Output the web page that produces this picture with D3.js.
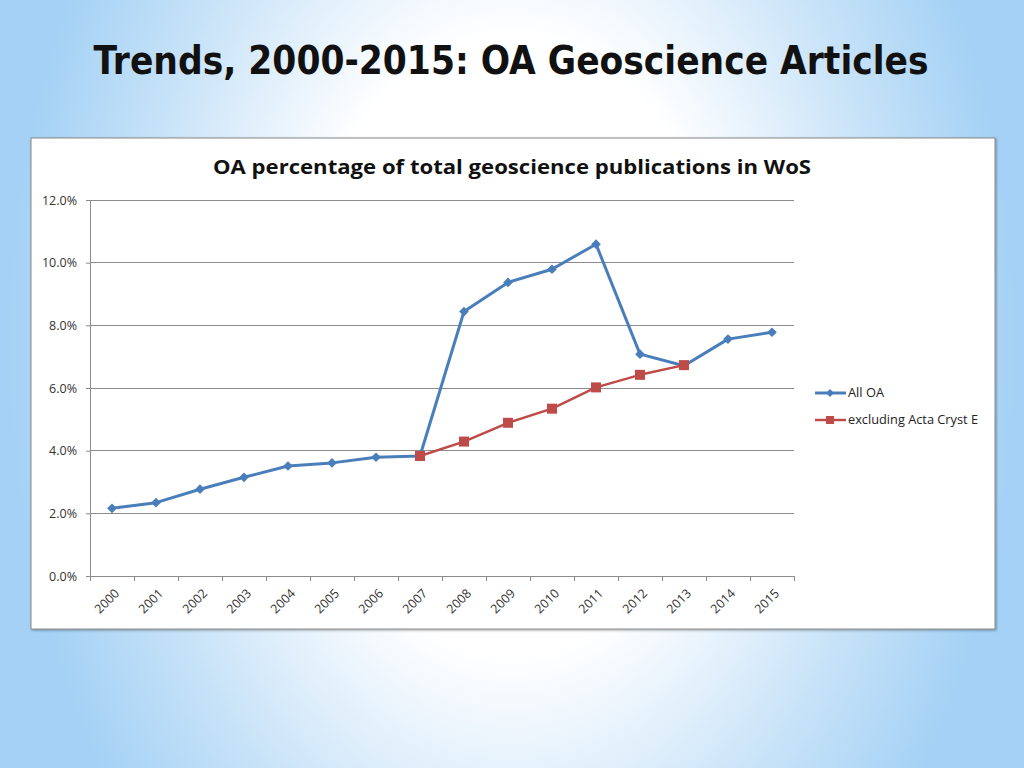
<!DOCTYPE html>
<html><head><meta charset="utf-8">
<script src="https://cdn.jsdelivr.net/npm/d3@7"></script>
<style>body{margin:0;padding:0;overflow:hidden}svg{display:block}</style>
</head><body>
<script>
const years = ["2000","2001","2002","2003","2004","2005","2006","2007","2008","2009","2010","2011","2012","2013","2014","2015"];
const allOA = [2.16,2.34,2.77,3.15,3.51,3.61,3.79,3.83,8.44,9.37,9.79,10.59,7.08,6.71,7.56,7.78];
const exclYears = ["2007","2008","2009","2010","2011","2012","2013"];
const exclActa = [3.83,4.29,4.89,5.34,6.02,6.42,6.73];
const yTicks = [0,2,4,6,8,10,12];
const seriesNames = ["All OA","excluding Acta Cryst E"];
const slideTitle = "Trends, 2000-2015: OA Geoscience Articles";
const chartTitle = "OA percentage of total geoscience publications in WoS";

const W=1024,H=768;
const svg=d3.select("body").append("svg").attr("width",W).attr("height",H);
const defs=svg.append("defs");
const rg=defs.append("radialGradient").attr("id","bg").attr("cx","50%").attr("cy","45%").attr("r","60%")
  .attr("gradientTransform","translate(0.5,0.45) scale(0.82,1.6) translate(-0.5,-0.45)");
rg.append("stop").attr("offset","0%").attr("stop-color","#ffffff");
rg.append("stop").attr("offset","42%").attr("stop-color","#ffffff");
rg.append("stop").attr("offset","75%").attr("stop-color","#c8e3f8");
rg.append("stop").attr("offset","100%").attr("stop-color","#a4d1f5");
svg.append("rect").attr("width",W).attr("height",H).attr("fill","url(#bg)");
const f=defs.append("filter").attr("id","sh").attr("x","-5%").attr("y","-5%").attr("width","110%").attr("height","110%");
f.append("feDropShadow").attr("dx",1).attr("dy",1).attr("stdDeviation",1).attr("flood-color","#000").attr("flood-opacity",0.35);

svg.append("text").attr("x",511).attr("y",74).attr("text-anchor","middle")
  .style("font-family","'DejaVu Sans Condensed','DejaVu Sans',sans-serif").style("font-weight","bold")
  .style("font-size","39px").attr("textLength",835).attr("lengthAdjust","spacingAndGlyphs").attr("fill","#111").text(slideTitle);

svg.append("rect").attr("x",31).attr("y",138).attr("width",964).attr("height",491)
  .attr("fill","#fff").attr("stroke","#8a8a8a").attr("stroke-width",1).attr("filter","url(#sh)");

svg.append("text").attr("x",512).attr("y",174).attr("text-anchor","middle")
  .style("font-family","'Open Sans',sans-serif").style("font-weight","bold")
  .style("font-size","19px").attr("textLength",598).attr("lengthAdjust","spacingAndGlyphs").attr("fill","#111").text(chartTitle);

const m={l:90,r:794,t:200,b:576};
const x=d3.scaleBand().domain(years).range([m.l,m.r]);
const y=d3.scaleLinear().domain([0,12]).range([m.b,m.t]);
const g=svg.append("g");
const fontAx="'Open Sans',sans-serif";

// gridlines
g.selectAll("line.grid").data(yTicks.filter(d=>d>0)).join("line")
  .attr("x1",m.l).attr("x2",m.r).attr("y1",d=>y(d)).attr("y2",d=>y(d))
  .attr("stroke","#8c8c8c").attr("stroke-width",1).attr("shape-rendering","crispEdges");

// y axis
const ya=g.append("g").attr("transform",`translate(${m.l},0)`)
  .call(d3.axisLeft(y).tickValues(yTicks).tickSize(4).tickPadding(9).tickFormat(d=>d.toFixed(1)+"%"));
ya.select(".domain").attr("stroke","#8c8c8c");
ya.selectAll(".tick line").attr("stroke","#8c8c8c");
ya.selectAll("text").style("font-family",fontAx).style("font-size","12.5px").attr("fill","#333");

// x axis
const xa=g.append("g").attr("transform",`translate(0,${m.b})`)
  .call(d3.axisBottom(x).tickSize(0).tickFormat(""));
xa.select(".domain").attr("stroke","#8c8c8c");
const bounds=years.map(d=>x(d)).concat([m.r]);
xa.selectAll("line.bt").data(bounds).join("line").attr("class","bt")
  .attr("x1",d=>d).attr("x2",d=>d).attr("y1",0).attr("y2",5).attr("stroke","#8c8c8c").attr("shape-rendering","crispEdges");
xa.selectAll("text.lab").data(years).join("text").attr("class","lab")
  .attr("transform",d=>`translate(${x(d)+x.bandwidth()/2+5},${15}) rotate(-45)`)
  .attr("text-anchor","end").attr("dy","0.35em")
  .style("font-family",fontAx).style("font-size","12.5px").attr("fill","#333").text(d=>d);

const cx=d=>x(d)+x.bandwidth()/2;
const blue="#4a7ebb", red="#be4b48";
const line=d3.line().x(d=>cx(d[0])).y(d=>y(d[1]));
const blueData=years.map((d,i)=>[d,allOA[i]]);
const redData=exclYears.map((d,i)=>[d,exclActa[i]]);
g.append("path").datum(blueData).attr("d",line).attr("fill","none").attr("stroke",blue).attr("stroke-width",3).attr("stroke-linejoin","round");
g.selectAll("path.dm").data(blueData).join("path").attr("class","dm")
  .attr("d",d3.symbol(d3.symbolDiamond2,60)()).attr("transform",d=>`translate(${cx(d[0])},${y(d[1])})`).attr("fill",blue);
g.append("path").datum(redData).attr("d",line).attr("fill","none").attr("stroke",red).attr("stroke-width",2.5).attr("stroke-linejoin","round");
g.selectAll("rect.sq").data(redData).join("rect").attr("class","sq")
  .attr("x",d=>cx(d[0])-5).attr("y",d=>y(d[1])-5).attr("width",10).attr("height",10).attr("fill",red);

// legend
const lg=svg.append("g");
const ly=[393,420];
[blue,red].forEach((c,i)=>{
  lg.append("line").attr("x1",815).attr("x2",846).attr("y1",ly[i]).attr("y2",ly[i]).attr("stroke",c).attr("stroke-width",i?2.5:3);
  if(i===0) lg.append("path").attr("d",d3.symbol(d3.symbolDiamond2,40)()).attr("transform",`translate(830,${ly[i]})`).attr("fill",c);
  else lg.append("rect").attr("x",826).attr("y",ly[i]-4).attr("width",8).attr("height",8).attr("fill",c);
  lg.append("text").attr("x",848).attr("y",ly[i]).attr("dy","0.35em")
    .style("font-family",fontAx).style("font-size","12.5px").attr("textLength",i?130:36).attr("lengthAdjust","spacingAndGlyphs")
    .attr("fill","#222").text(seriesNames[i]);
});
</script>
</body></html>
